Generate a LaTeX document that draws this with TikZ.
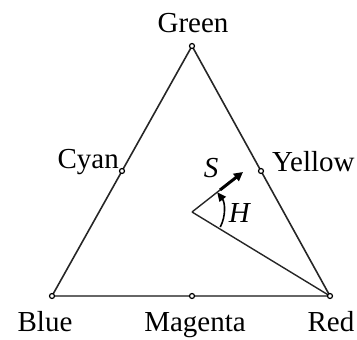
\documentclass[tikz,border=0pt]{standalone}
\usepackage{fontspec}
\setmainfont{Liberation Serif}
\usetikzlibrary{arrows.meta}
\begin{document}
\begin{tikzpicture}[x=1pt,y=-1pt,
  edge/.style={line width=1.6pt,black!85},
  vdot/.style={circle,draw,line width=1.2pt,fill=white,inner sep=0pt,minimum size=5pt},
  lab/.style={font=\fontsize{29}{31}\selectfont,inner sep=0pt},
  thin/.style={line width=1.4pt,black!85}]
\useasboundingbox (0,0) rectangle (357,340);
\coordinate (G) at (192,46);
\coordinate (B) at (52,296);
\coordinate (R) at (330,296);
\coordinate (M) at (192,296);
\coordinate (C) at (122,171);
\coordinate (Y) at (261,171);
\coordinate (O) at (192,212);
\coordinate (P) at (220,190);
\coordinate (Q) at (243,172);
\draw[edge] (B) -- (G) -- (R);
\draw[line width=2.4pt,black!60] (B) -- (R);
\draw[thin] (O) -- (R);
\draw[thin] (O) -- (P);
\draw[line width=3pt,-{Triangle[length=9pt,width=9pt]}] (P) -- (Q);
\draw[line width=1.6pt,-{Triangle[length=9pt,width=8pt]}] (O) ++(28:32) arc[start angle=28, end angle=-38, radius=32];
\node[vdot] (g) at (G) {};
\node[vdot] (b) at (B) {};
\node[vdot] (r) at (R) {};
\node[vdot] (m) at (M) {};
\node[vdot] (c) at (C) {};
\node[vdot] (y) at (Y) {};
\node[lab,anchor=base] (tg) at (193,32) {Green};
\node[lab,anchor=base east] (tc) at (119,168) {Cyan};
\node[lab,anchor=base west] (ty) at (272,171) {Yellow};
\node[lab,anchor=base] (tb) at (45,331) {Blue};
\node[lab,anchor=base] (tm) at (195,331) {Magenta};
\node[lab,anchor=base] (tr) at (331,331) {Red};
\node[lab,anchor=base] (ts) at (211,177) {\textit{S}};
\node[lab,anchor=base] (th) at (240,222) {\textit{H}};
\end{tikzpicture}
\end{document}
